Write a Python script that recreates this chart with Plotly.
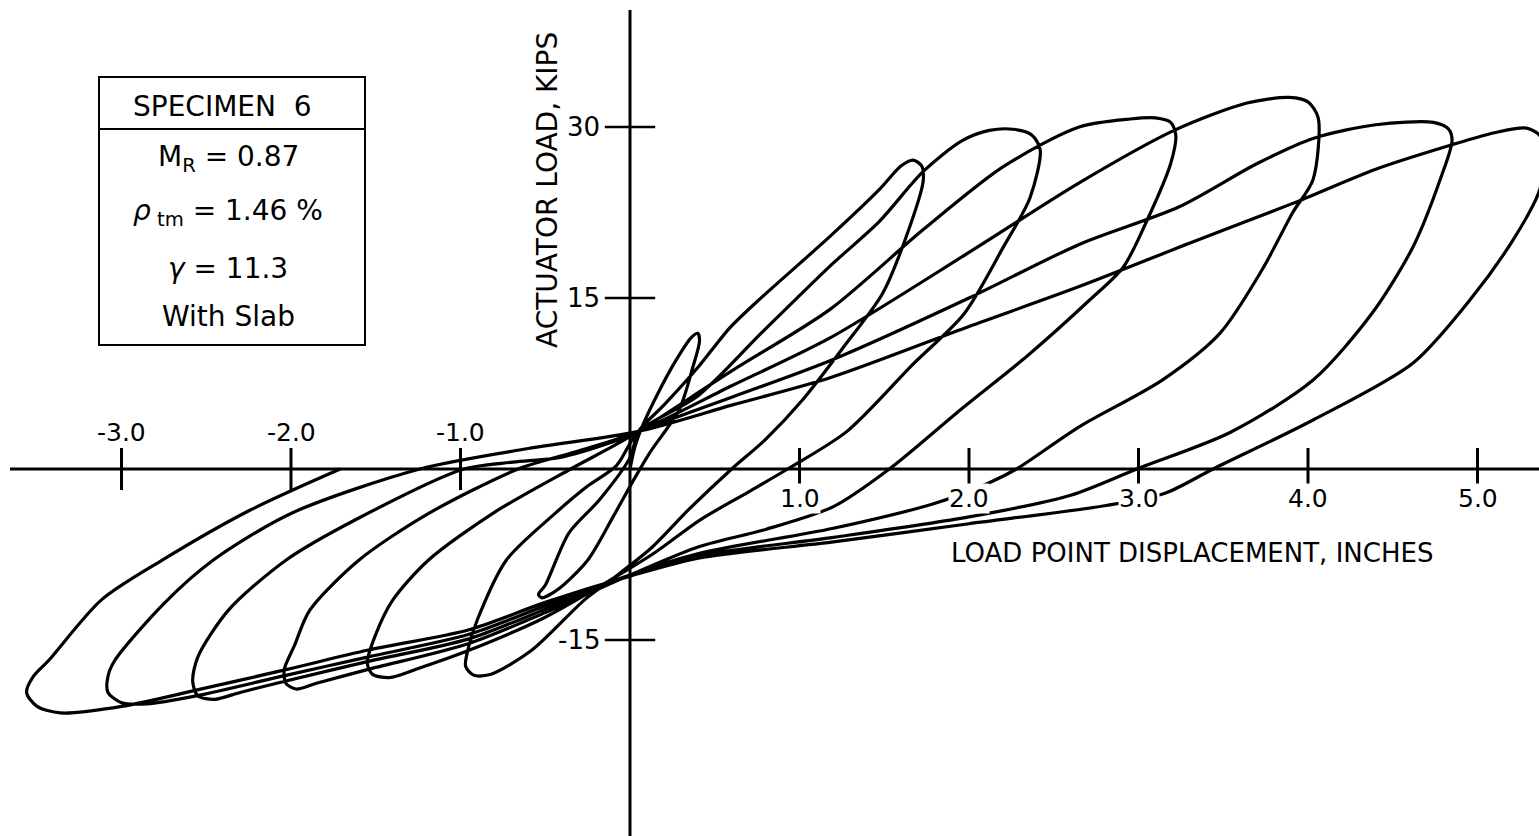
import plotly.graph_objects as go

# ---------------- data (inches, kips) ----------------
# cycle 1 (small)
c1_x = [0.0, 0.03, 0.08, 0.16, 0.27, 0.36, 0.40, 0.41, 0.37, 0.29, 0.12, 0.02, -0.10, -0.25, -0.42, -0.52, -0.54,
        -0.50, -0.36, -0.18, 0.0, 0.05]
c1_y = [0.0, 2.0, 4.0, 6.5, 9.5, 11.5, 11.9, 11.2, 8.9, 5.2, 1.5, -1.0, -4.2, -8.0, -10.5, -11.3, -11.0,
        -10.2, -5.6, -2.7, 1.0, 3.3]
# cycle 2
c2_x = [0.20, 0.40, 0.59, 0.78, 1.18, 1.47, 1.60, 1.67, 1.72, 1.73,
        1.63, 1.49, 1.26, 1.02, 0.80, 0.60, 0.35, 0.12, -0.10,
        -0.27, -0.58, -0.82, -0.92, -0.97,
        -0.95, -0.90, -0.73, -0.45, -0.25, -0.08, 0.05]
c2_y = [5.6, 8.9, 12.4, 15.1, 20.4, 24.5, 26.6, 27.1, 26.6, 25.3,
        20.4, 15.4, 10.7, 6.1, 2.6, 0.0, -3.5, -7.0, -9.6,
        -11.5, -15.9, -18.0, -18.1, -17.3,
        -15.5, -13.2, -8.0, -4.0, -1.5, 0.3, 3.3]
# cycle 3
c3_x = [0.40, 0.78, 1.18, 1.47, 1.73, 1.96, 2.12, 2.26, 2.37, 2.42,
        2.36, 2.20, 1.97, 1.67, 1.28, 0.93, 0.70, 0.41, 0.15, -0.10,
        -0.50, -0.95, -1.25, -1.42, -1.52, -1.55,
        -1.50, -1.40, -1.19, -0.80, -0.35, -0.10, 0.05]
c3_y = [6.4, 12.0, 17.8, 21.7, 26.1, 28.8, 29.7, 29.8, 29.3, 28.0,
        23.8, 19.4, 13.6, 9.2, 3.3, 0.0, -2.0, -4.5, -7.3, -9.6,
        -13.0, -15.9, -17.5, -18.3, -18.0, -17.0,
        -14.5, -11.5, -8.0, -3.8, 0.0, 2.0, 3.3]
# cycle 4
c4_x = [0.60, 1.18, 1.73, 2.20, 2.65, 2.95, 3.10, 3.19, 3.22,
        3.19, 3.05, 2.91, 2.71, 2.35, 1.95, 1.53, 1.20, 0.80, 0.41, 0.0,
        -0.50, -0.95, -1.55, -1.85, -1.97, -2.03, -2.04,
        -1.98, -1.89, -1.60, -1.20, -0.66, -0.30, 0.05]
c4_y = [8.6, 14.0, 21.0, 26.5, 30.0, 30.7, 30.8, 30.4, 29.3,
        26.8, 21.8, 17.7, 14.8, 10.0, 5.2, 0.0, -3.3, -5.3, -6.8, -9.3,
        -12.6, -15.3, -17.6, -18.8, -19.3, -18.8, -17.6,
        -15.5, -12.4, -8.0, -4.0, 0.0, 1.6, 3.3]
# cycle 5
c5_x = [0.60, 1.18, 2.00, 2.65, 3.21, 3.64, 3.89, 4.00, 4.06,
        4.03, 3.91, 3.73, 3.48, 3.14, 2.65, 2.28, 2.12, 1.80, 1.20, 0.41, 0.0,
        -0.50, -0.95, -1.55, -2.03, -2.30, -2.45, -2.55, -2.58,
        -2.55, -2.37, -2.03, -1.60, -0.98, -0.69, -0.42, -0.10, 0.05]
c5_y = [7.3, 11.5, 19.0, 25.1, 29.7, 32.1, 32.6, 32.2, 30.8,
        25.4, 22.5, 17.5, 11.9, 7.8, 3.7, 0.0, -1.2, -3.0, -5.2, -7.4, -9.3,
        -12.3, -14.9, -16.9, -18.6, -19.6, -20.2, -19.9, -18.6,
        -16.5, -12.4, -8.0, -4.3, 0.0, 0.6, 1.0, 2.4, 3.3]
# cycle 6
c6_x = [0.60, 1.18, 2.00, 2.65, 3.24, 3.70, 4.03, 4.40, 4.74, 4.83, 4.85,
        4.78, 4.62, 4.38, 4.03, 3.54, 2.99, 2.60, 2.00, 1.20, 0.41, 0.0,
        -0.50, -0.95, -1.55, -2.03, -2.56, -2.85, -3.00, -3.08, -3.08,
        -3.04, -2.75, -2.46, -2.00, -1.24, -0.60, 0.05]
c6_y = [6.3, 9.5, 15.0, 19.7, 23.0, 26.8, 29.0, 30.2, 30.4, 29.8, 28.8,
        25.4, 19.5, 13.7, 7.8, 3.2, 0.0, -2.3, -4.2, -6.0, -7.6, -9.3,
        -12.0, -14.5, -16.5, -18.1, -19.9, -20.6, -20.5, -19.6, -18.2,
        -16.8, -11.8, -8.0, -3.9, 0.0, 1.8, 3.3]
# cycle 7 (largest, test ends on the negative unloading branch)
c7_x = [0.60, 1.18, 2.00, 2.65, 3.30, 3.91, 4.40, 4.84, 5.10, 5.29, 5.37, 5.40,
        5.36, 5.21, 4.97, 4.62, 4.03, 3.44, 3.16, 2.81, 2.00, 1.20, 0.41, 0.0,
        -0.50, -0.95, -1.55, -2.03, -2.56, -2.99, -3.36, -3.50, -3.56, -3.52,
        -3.43, -3.12, -2.76, -2.24, -1.71]
c7_y = [5.6, 8.0, 12.5, 16.0, 19.8, 23.3, 26.3, 28.4, 29.5, 29.9, 29.2, 27.0,
        24.2, 20.1, 15.1, 9.3, 4.3, 0.0, -2.1, -3.2, -4.8, -6.4, -7.8, -9.4,
        -11.7, -14.1, -15.9, -17.6, -19.4, -20.8, -21.4, -20.8, -19.6, -18.2,
        -16.8, -11.5, -8.0, -3.6, 0.0]

x_ticks = [-3.0, -2.0, -1.0, 1.0, 2.0, 3.0, 4.0, 5.0]
x_tick_text = ["-3.0", "-2.0", "-1.0", "1.0", "2.0", "3.0", "4.0", "5.0"]
y_ticks = [30, 15, -15]
y_tick_text = ["30", "15", "-15"]

x_title = "LOAD POINT DISPLACEMENT, INCHES"
y_title = "ACTUATOR LOAD, KIPS"
box_title = "SPECIMEN  6"
box_lines = ["M<sub>R</sub> = 0.87", "<i>ρ</i><sub> tm</sub> = 1.46 %", "<i>γ</i> = 11.3", "With Slab"]

# ---------------- figure ----------------
W, H = 1539, 836
X0, Y0 = 630, 469          # pixel position of the origin
SX, SY = 169.5, 11.4       # pixels per inch / per kip
x_range = [(0 - X0) / SX, (W - X0) / SX]
y_range = [-(H - Y0) / SY, Y0 / SY]

xs = c1_x + c2_x + c3_x + c4_x + c5_x + c6_x + c7_x
ys = c1_y + c2_y + c3_y + c4_y + c5_y + c6_y + c7_y

FONT = "DejaVu Sans"
fig = go.Figure()

# axes lines
fig.add_trace(go.Scatter(x=[x_range[0] + 10 / SX, x_range[1]], y=[0, 0], mode="lines",
                         line=dict(color="black", width=3), hoverinfo="skip"))
fig.add_trace(go.Scatter(x=[0, 0], y=[y_range[0], y_range[1] - 10 / SY], mode="lines",
                         line=dict(color="black", width=3), hoverinfo="skip"))
# tick crosses
fig.add_trace(go.Scatter(x=x_ticks, y=[0] * len(x_ticks), mode="markers",
                         marker=dict(symbol="line-ns", size=30, line=dict(width=3, color="black")),
                         hoverinfo="skip"))
fig.add_trace(go.Scatter(x=[0] * len(y_ticks), y=y_ticks, mode="markers",
                         marker=dict(symbol="line-ew", size=36, line=dict(width=2.5, color="black")),
                         hoverinfo="skip"))

# hysteresis curve
fig.add_trace(go.Scatter(x=xs, y=ys, mode="lines",
                         line=dict(color="black", width=3.2, shape="spline", smoothing=0.8),
                         hoverinfo="skip"))

ann = []
for v, t in zip(x_ticks, x_tick_text):
    if v < 0:
        ann.append(dict(x=v, y=0, xref="x", yref="y", text=t, showarrow=False, yshift=37,
                        xanchor="center", yanchor="middle",
                        font=dict(family=FONT, size=25, color="black")))
    else:
        ann.append(dict(x=v, y=0, xref="x", yref="y", text=t, showarrow=False, yshift=-29,
                        xanchor="center", yanchor="middle", bgcolor="white", borderpad=0,
                        font=dict(family=FONT, size=25, color="black")))
for v, t in zip(y_ticks, y_tick_text):
    ann.append(dict(x=0, y=v, xref="x", yref="y", text=t, showarrow=False, xanchor="right",
                    yanchor="middle", xshift=-28, font=dict(family=FONT, size=26, color="black")))

ann.append(dict(x=1192 / W, y=1 - 553 / H, xref="paper", yref="paper", text=x_title, showarrow=False,
                xanchor="center", yanchor="middle", font=dict(family=FONT, size=26, color="black")))
ann.append(dict(x=547 / W, y=1 - 190 / H, xref="paper", yref="paper", text=y_title, showarrow=False,
                xanchor="center", yanchor="middle", textangle=-90,
                font=dict(family=FONT, size=28, color="black")))

# specimen box
ann.append(dict(x=222 / W, y=1 - 106 / H, xref="paper", yref="paper", text=box_title, showarrow=False,
                xanchor="center", yanchor="middle", font=dict(family=FONT, size=28, color="black")))
for i, t in enumerate(box_lines):
    yc = [158, 212, 268, 316][i]
    ann.append(dict(x=228 / W, y=1 - yc / H, xref="paper", yref="paper", text=t, showarrow=False,
                    xanchor="center", yanchor="middle", font=dict(family=FONT, size=28, color="black")))

shapes = [
    dict(type="rect", xref="paper", yref="paper", x0=99 / W, x1=365 / W, y0=1 - 345 / H, y1=1 - 77 / H,
         line=dict(color="black", width=2)),
    dict(type="line", xref="paper", yref="paper", x0=99 / W, x1=365 / W, y0=1 - 129 / H, y1=1 - 129 / H,
         line=dict(color="black", width=2)),
]

fig.update_layout(
    width=W, height=H, margin=dict(l=0, r=0, t=0, b=0),
    paper_bgcolor="white", plot_bgcolor="white", showlegend=False,
    xaxis=dict(range=x_range, visible=False, fixedrange=True),
    yaxis=dict(range=y_range, visible=False, fixedrange=True),
    annotations=ann, shapes=shapes,
)
fig.write_html("out.html")
